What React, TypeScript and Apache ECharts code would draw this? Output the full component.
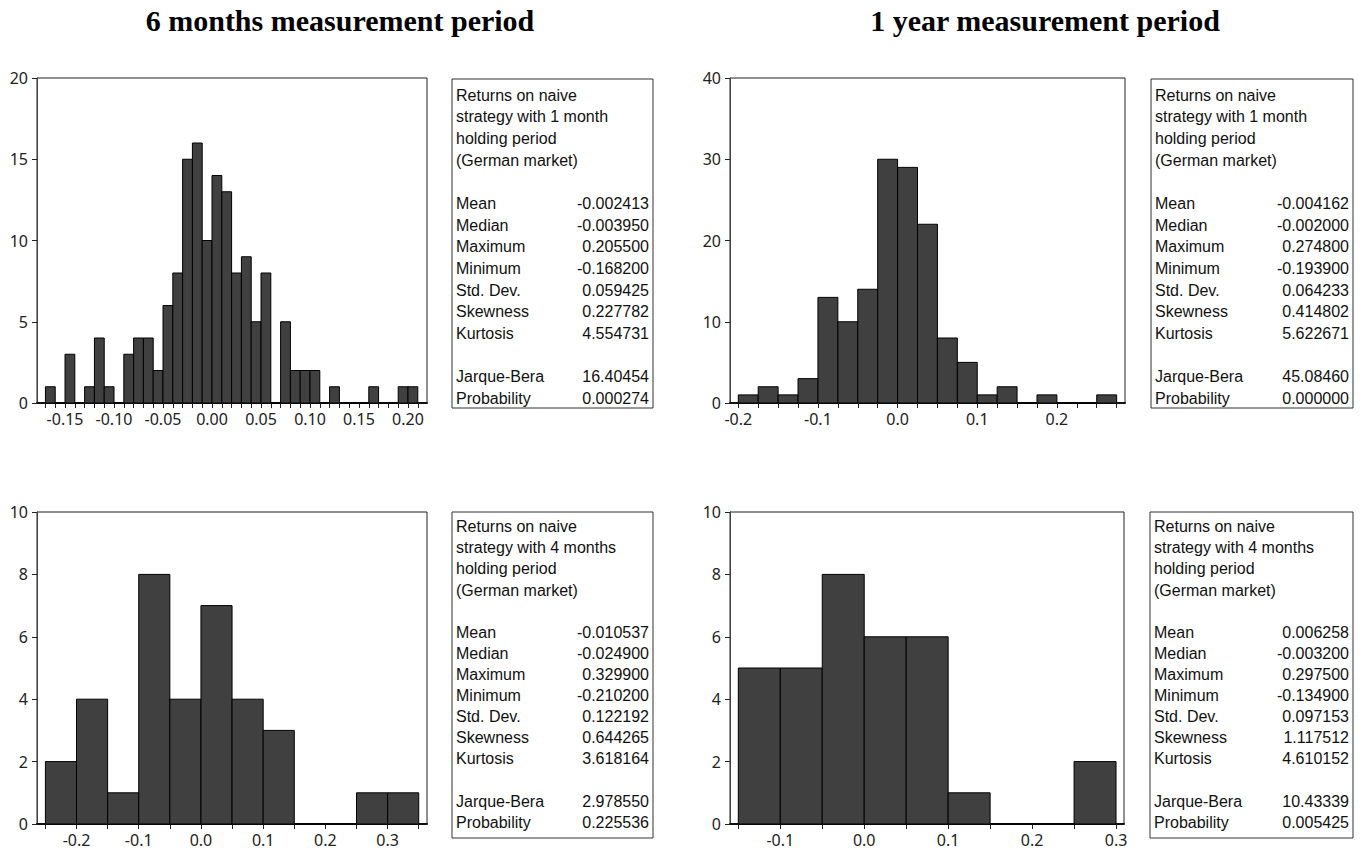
import React, { useEffect, useRef } from "react";
import * as echarts from "echarts";

// ---- Titles ----
const COLUMN_TITLES = ["6 months measurement period", "1 year measurement period"];

// ---- Histogram data (bin start, bin width, counts) ----
const p1BinStart = -0.17;
const p1BinWidth = 0.01;
const p1Counts = [1, 0, 3, 0, 1, 4, 1, 0, 3, 4, 4, 2, 6, 8, 15, 16, 10, 14, 13, 8, 9, 5, 8, 0, 5, 2, 2, 2, 0, 1, 0, 0, 0, 1, 0, 0, 1, 1];
const p1TickLabels = [-0.15, -0.1, -0.05, 0, 0.05, 0.1, 0.15, 0.2];

const p2BinStart = -0.2;
const p2BinWidth = 0.025;
const p2Counts = [1, 2, 1, 3, 13, 10, 14, 30, 29, 22, 8, 5, 1, 2, 0, 1, 0, 0, 1];
const p2TickLabels = [-0.2, -0.1, 0, 0.1, 0.2];

const p3BinStart = -0.25;
const p3BinWidth = 0.05;
const p3Counts = [2, 4, 1, 8, 4, 7, 4, 3, 0, 0, 1, 1];
const p3TickLabels = [-0.2, -0.1, 0, 0.1, 0.2, 0.3];

const p4BinStart = -0.15;
const p4BinWidth = 0.05;
const p4Counts = [5, 5, 8, 6, 6, 1, 0, 0, 2];
const p4TickLabels = [-0.1, 0, 0.1, 0.2, 0.3];

// ---- Statistics boxes ----
const statNames = ["Mean", "Median", "Maximum", "Minimum", "Std. Dev.", "Skewness", "Kurtosis"];
const testNames = ["Jarque-Bera", "Probability"];

const p1Heading = ["Returns on naive", "strategy with 1 month", "holding period", "(German market)"];
const p1Stats = ["-0.002413", "-0.003950", "0.205500", "-0.168200", "0.059425", "0.227782", "4.554731"];
const p1Tests = ["16.40454", "0.000274"];

const p2Heading = ["Returns on naive", "strategy with 1 month", "holding period", "(German market)"];
const p2Stats = ["-0.004162", "-0.002000", "0.274800", "-0.193900", "0.064233", "0.414802", "5.622671"];
const p2Tests = ["45.08460", "0.000000"];

const p3Heading = ["Returns on naive", "strategy with 4 months", "holding period", "(German market)"];
const p3Stats = ["-0.010537", "-0.024900", "0.329900", "-0.210200", "0.122192", "0.644265", "3.618164"];
const p3Tests = ["2.978550", "0.225536"];

const p4Heading = ["Returns on naive", "strategy with 4 months", "holding period", "(German market)"];
const p4Stats = ["0.006258", "-0.003200", "0.297500", "-0.134900", "0.097153", "1.117512", "4.610152"];
const p4Tests = ["10.43339", "0.005425"];

type Panel = {
  binStart: number;
  binWidth: number;
  counts: number[];
  labels: number[];
  dec: number;
  yMax: number;
  yInt: number;
  xMin: number;
  xMax: number;
  grid: { left: number; top: number; width: number; height: number };
  box: { x: number; y: number; w: number; h: number; y0: number; lh: number };
  heading: string[];
  stats: string[];
  tests: string[];
};

const panels: Panel[] = [
  {
    binStart: p1BinStart, binWidth: p1BinWidth, counts: p1Counts, labels: p1TickLabels, dec: 2,
    yMax: 20, yInt: 5, xMin: -0.1786, xMax: 0.2194,
    grid: { left: 37, top: 78, width: 390, height: 325 },
    box: { x: 452, y: 79, w: 201, h: 329, y0: 95.3, lh: 21.65 },
    heading: p1Heading, stats: p1Stats, tests: p1Tests,
  },
  {
    binStart: p2BinStart, binWidth: p2BinWidth, counts: p2Counts, labels: p2TickLabels, dec: 1,
    yMax: 40, yInt: 10, xMin: -0.2104, xMax: 0.2855,
    grid: { left: 730, top: 78, width: 395, height: 325 },
    box: { x: 1151, y: 79, w: 202, h: 329, y0: 95.3, lh: 21.65 },
    heading: p2Heading, stats: p2Stats, tests: p2Tests,
  },
  {
    binStart: p3BinStart, binWidth: p3BinWidth, counts: p3Counts, labels: p3TickLabels, dec: 1,
    yMax: 10, yInt: 2, xMin: -0.2635, xMax: 0.3633,
    grid: { left: 37, top: 512, width: 390, height: 312 },
    box: { x: 452, y: 512, w: 201, h: 326, y0: 526.7, lh: 21.1 },
    heading: p3Heading, stats: p3Stats, tests: p3Tests,
  },
  {
    binStart: p4BinStart, binWidth: p4BinWidth, counts: p4Counts, labels: p4TickLabels, dec: 1,
    yMax: 10, yInt: 2, xMin: -0.1599, xMax: 0.3095,
    grid: { left: 730, top: 512, width: 394, height: 312 },
    box: { x: 1150, y: 512, w: 203, h: 326, y0: 526.7, lh: 21.1 },
    heading: p4Heading, stats: p4Stats, tests: p4Tests,
  },
];

const edge = (p: Panel, i: number) => Math.round((p.binStart + i * p.binWidth) * 100000) / 100000;

const AXIS_FONT = "Noto Sans";
const BOX_FONT = "Liberation Sans";

function buildOption() {
  const grids: any[] = [];
  const xAxes: any[] = [];
  const yAxes: any[] = [];
  const series: any[] = [];
  const graphics: any[] = [];

  panels.forEach((p, k) => {
    grids.push({
      ...p.grid,
      show: true,
      borderColor: "#222",
      borderWidth: 1,
      backgroundColor: "#fff",
      containLabel: false,
    });
    const edges = p.counts.map((_, i) => edge(p, i)).concat([edge(p, p.counts.length)]);
    xAxes.push({
      type: "value",
      gridIndex: k,
      min: p.xMin,
      max: p.xMax,
      splitLine: { show: false },
      axisLine: { show: true, onZero: false, lineStyle: { color: "#111", width: 2 } },
      axisTick: { show: true, length: 5, customValues: edges, lineStyle: { color: "#222" } },
      axisLabel: {
        customValues: p.labels,
        formatter: (v: number) => v.toFixed(p.dec),
        fontFamily: AXIS_FONT,
        fontSize: 16,
        color: "#222",
        margin: 8,
        showMinLabel: true,
        showMaxLabel: true,
      },
    });
    yAxes.push({
      type: "value",
      gridIndex: k,
      min: 0,
      max: p.yMax,
      interval: p.yInt,
      splitLine: { show: false },
      axisLine: { show: true, onZero: false, lineStyle: { color: "#444", width: 1 } },
      axisTick: { show: true, length: 5, lineStyle: { color: "#222" } },
      axisLabel: { fontFamily: AXIS_FONT, fontSize: 16, color: "#222", margin: 9 },
    });
    series.push({
      type: "custom",
      xAxisIndex: k,
      yAxisIndex: k,
      data: p.counts.map((c, i) => [edges[i], edges[i + 1], c]),
      encode: { x: [0, 1], y: 2 },
      renderItem: (params: any, api: any) => {
        const a = api.coord([api.value(0), api.value(2)]);
        const b = api.coord([api.value(1), 0]);
        return {
          type: "rect",
          shape: { x: a[0], y: a[1], width: b[0] - a[0], height: b[1] - a[1] },
          style: { fill: "#404040", stroke: "#000", lineWidth: 1 },
        };
      },
    });

    // statistics box
    const { x, y, w, h, y0, lh } = p.box;
    const children: any[] = [
      {
        type: "rect",
        shape: { x, y, width: w, height: h },
        style: { fill: "#fff", stroke: "#333", lineWidth: 1 },
      },
    ];
    const txt = (text: string, tx: number, ty: number, align: string) => ({
      type: "text",
      x: tx,
      y: ty,
      style: {
        text,
        fill: "#111",
        fontFamily: BOX_FONT,
        fontSize: 16,
        textAlign: align,
        textVerticalAlign: "middle",
      },
    });
    p.heading.forEach((line, i) => children.push(txt(line, x + 4, y0 + i * lh, "left")));
    statNames.forEach((name, i) => {
      children.push(txt(name, x + 4, y0 + (5 + i) * lh, "left"));
      children.push(txt(p.stats[i], x + w - 4, y0 + (5 + i) * lh, "right"));
    });
    testNames.forEach((name, i) => {
      children.push(txt(name, x + 4, y0 + (13 + i) * lh, "left"));
      children.push(txt(p.tests[i], x + w - 4, y0 + (13 + i) * lh, "right"));
    });
    graphics.push({ type: "group", children });
  });

  const titleX = [340, 1045];
  COLUMN_TITLES.forEach((t, i) => {
    graphics.push({
      type: "text",
      x: titleX[i],
      y: 20,
      style: {
        text: t,
        fill: "#000",
        fontFamily: "Liberation Serif",
        fontWeight: "bold",
        fontSize: 30,
        textAlign: "center",
        textVerticalAlign: "middle",
      },
    });
  });

  return {
    animation: false,
    backgroundColor: "#fff",
    grid: grids,
    xAxis: xAxes,
    yAxis: yAxes,
    series,
    graphic: graphics,
  };
}

export default function App() {
  const ref = useRef<HTMLDivElement>(null);
  useEffect(() => {
    if (!ref.current) return;
    const chart = echarts.init(ref.current, undefined, { renderer: "svg" });
    chart.setOption(buildOption() as any);
    return () => chart.dispose();
  }, []);
  return (
    <div
      ref={ref}
      style={{ position: "fixed", left: 0, top: 0, width: 1362, height: 852, background: "#fff" }}
    />
  );
}
